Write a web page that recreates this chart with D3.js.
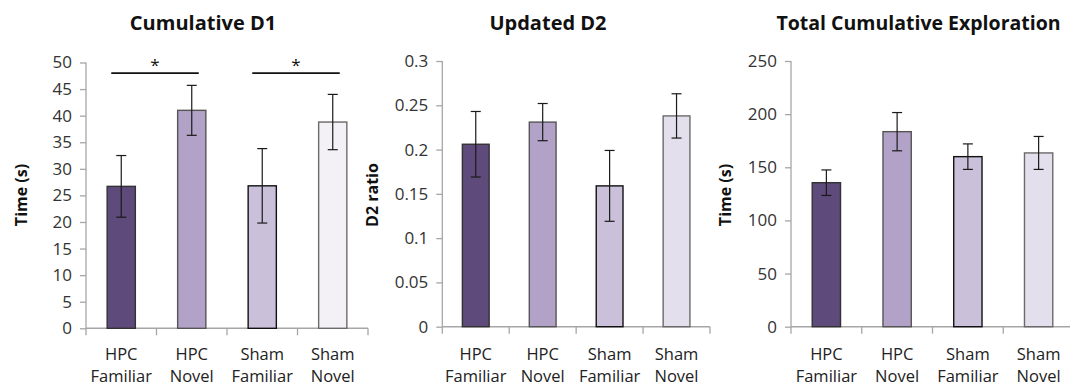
<!DOCTYPE html>
<html>
<head>
<meta charset="utf-8">
<script src="https://cdn.jsdelivr.net/npm/d3@7"></script>
<style>
  html, body { margin: 0; padding: 0; background: #fff; }
  svg { display: block; font-family: "Open Sans", "DejaVu Sans", sans-serif; }
</style>
</head>
<body>
<svg id="chart" width="1070" height="387"></svg>
<script>
// ---- data ----
const categoryLine1 = ["HPC", "HPC", "Sham", "Sham"];
const categoryLine2 = ["Familiar", "Novel", "Familiar", "Novel"];

const d1Means  = [26.7, 41.0, 26.8, 38.8];
const d1Errors = [5.8, 4.7, 7.0, 5.2];

const d2Means  = [0.206, 0.231, 0.159, 0.238];
const d2Errors = [0.037, 0.021, 0.040, 0.025];

const totalMeans  = [135.5, 183.5, 160.0, 163.5];
const totalErrors = [12, 18, 12, 15.5];

const d1Ticks    = [0, 5, 10, 15, 20, 25, 30, 35, 40, 45, 50];
const d2Ticks    = [0, 0.05, 0.1, 0.15, 0.2, 0.25, 0.3];
const totalTicks = [0, 50, 100, 150, 200, 250];

const titles  = ["Cumulative D1", "Updated D2", "Total Cumulative Exploration"];
const yTitles = ["Time (s)", "D2 ratio", "Time (s)"];

// significance brackets for panel 1: [fromIndex, toIndex, value]
const d1Sig = [[0, 1, 48], [2, 3, 48]];

// ---- styles ----
const fillsA = ["#5e4a7b", "#b2a2c8", "#cbc0da", "#f4f1f6"];
const fillsB = ["#5e4a7b", "#b2a2c8", "#cbc0da", "#e4dfec"];
const strokes = ["#333333", "#555555", "#111111", "#6a6a6a"];

const panels = [
  { means: d1Means, errors: d1Errors, ticks: d1Ticks, max: 50, fills: fillsA,
    x0: 86, x1: 368, yTop: 62.5, yBot: 328.3, titleX: 203, titleSize: 20, yTitleX: 27, sig: d1Sig },
  { means: d2Means, errors: d2Errors, ticks: d2Ticks, max: 0.3, fills: fillsB,
    x0: 442.3, x1: 710, yTop: 61, yBot: 326.7, titleX: 548, titleSize: 20, yTitleX: 378, sig: [] },
  { means: totalMeans, errors: totalErrors, ticks: totalTicks, max: 250, fills: fillsB,
    x0: 791, x1: 1074, yTop: 61, yBot: 326.7, titleX: 918.5, titleSize: 19.5, yTitleX: 731, sig: [] }
];

const svg = d3.select("#chart");
const axisColor = "#a6a6a6";
const fmt = d => String(+d.toFixed(2));

panels.forEach((p, pi) => {
  const g = svg.append("g");
  const idx = d3.range(p.means.length);
  const x = d3.scaleBand().domain(idx).range([p.x0, p.x1]).paddingInner(0.6).paddingOuter(0.3);
  const y = d3.scaleLinear().domain([0, p.max]).range([p.yBot, p.yTop]);
  const step = (p.x1 - p.x0) / idx.length;

  // title
  g.append("text").attr("x", p.titleX).attr("y", 30)
    .attr("text-anchor", "middle").attr("font-size", p.titleSize).attr("font-weight", "bold")
    .attr("fill", "#111").text(titles[pi]);

  // y title
  g.append("text").attr("transform", `translate(${p.yTitleX},195) rotate(-90)`)
    .attr("text-anchor", "middle").attr("font-size", 16).attr("font-weight", "bold")
    .attr("fill", "#111").text(yTitles[pi]);

  // y axis
  const yAxis = d3.axisLeft(y).tickValues(p.ticks).tickFormat(fmt).tickSize(6).tickPadding(8);
  const ya = g.append("g").attr("transform", `translate(${p.x0},0)`).call(yAxis);
  ya.select(".domain").attr("stroke", axisColor).attr("stroke-width", 1.3)
    .attr("d", `M0,${p.yTop}V${p.yBot}`);
  ya.selectAll(".tick line").attr("stroke", axisColor).attr("stroke-width", 1.3);
  ya.selectAll(".tick text").attr("font-size", 17).attr("fill", "#333")
    .attr("font-family", "Open Sans, sans-serif");

  // x axis line + ticks at band boundaries
  g.append("line").attr("x1", p.x0).attr("x2", p.x1).attr("y1", p.yBot).attr("y2", p.yBot)
    .attr("stroke", axisColor).attr("stroke-width", 1.6);
  d3.range(idx.length + 1).forEach(k => {
    g.append("line").attr("x1", p.x0 + k * step).attr("x2", p.x0 + k * step)
      .attr("y1", p.yBot).attr("y2", p.yBot + 7)
      .attr("stroke", axisColor).attr("stroke-width", 1.3);
  });

  // bars
  g.selectAll("rect.bar").data(idx).join("rect").attr("class", "bar")
    .attr("x", i => x(i)).attr("width", x.bandwidth())
    .attr("y", i => y(p.means[i])).attr("height", i => y(0) - y(p.means[i]))
    .attr("fill", i => p.fills[i]).attr("stroke", i => strokes[i]).attr("stroke-width", 1.4);

  // error bars
  idx.forEach(i => {
    const cx = x(i) + x.bandwidth() / 2;
    const hi = y(p.means[i] + p.errors[i]);
    const lo = y(p.means[i] - p.errors[i]);
    const eg = g.append("g").attr("stroke", "#1a1a1a").attr("stroke-width", 1.2);
    eg.append("line").attr("x1", cx).attr("x2", cx).attr("y1", hi).attr("y2", lo);
    eg.append("line").attr("x1", cx - 5).attr("x2", cx + 5).attr("y1", hi).attr("y2", hi);
    eg.append("line").attr("x1", cx - 5).attr("x2", cx + 5).attr("y1", lo).attr("y2", lo);
  });

  // category labels
  idx.forEach(i => {
    const cx = x(i) + x.bandwidth() / 2;
    const t = g.append("text").attr("text-anchor", "middle").attr("font-size", 16.5).attr("fill", "#222");
    t.append("tspan").attr("x", cx).attr("y", 360).text(categoryLine1[i]);
    t.append("tspan").attr("x", cx).attr("y", 382).text(categoryLine2[i]);
  });

  // significance
  p.sig.forEach(([a, b, v]) => {
    const xa = x(a) + x.bandwidth() / 2 - 10;
    const xb = x(b) + x.bandwidth() / 2 + 7;
    g.append("line").attr("x1", xa).attr("x2", xb).attr("y1", y(v)).attr("y2", y(v))
      .attr("stroke", "#111").attr("stroke-width", 1.6);
    g.append("text").attr("x", (xa + xb) / 2).attr("y", y(v) - 2)
      .attr("text-anchor", "middle").attr("font-size", 17).attr("fill", "#111").text("*");
  });
});
</script>
</body>
</html>
